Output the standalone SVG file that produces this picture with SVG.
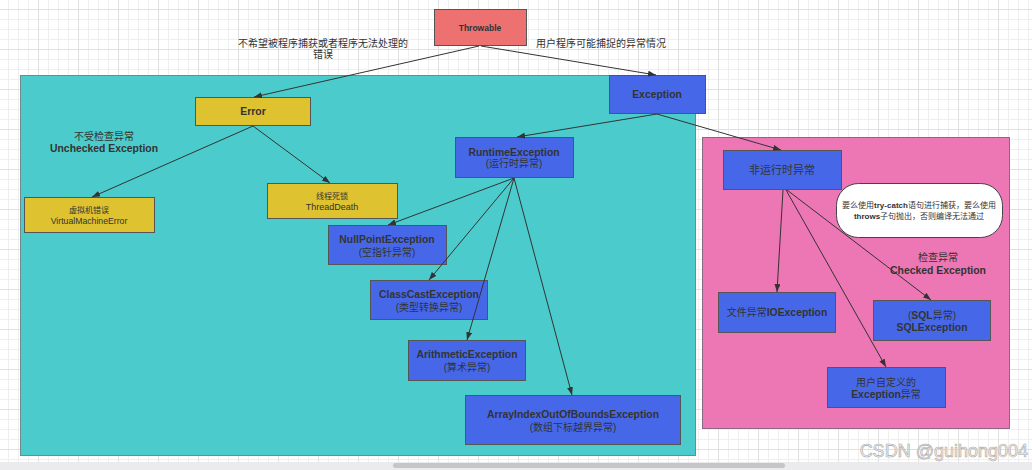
<svg xmlns="http://www.w3.org/2000/svg" width="1032" height="470" viewBox="0 0 1032 470">
<defs>
<pattern id="grid" patternUnits="userSpaceOnUse" x="-2" y="9" width="40" height="40">
<rect width="40" height="40" fill="#ffffff"/>
<g fill="#efefef">
<rect x="10" y="0" width="1" height="40"/><rect x="20" y="0" width="1" height="40"/><rect x="30" y="0" width="1" height="40"/>
<rect x="0" y="10" width="40" height="1"/><rect x="0" y="20" width="40" height="1"/><rect x="0" y="30" width="40" height="1"/>
</g>
<g fill="#e0e0e0"><rect x="0" y="0" width="1" height="40"/><rect x="0" y="0" width="40" height="1"/></g>
</pattern>
<marker id="arr" viewBox="0 0 8 6" refX="8" refY="3" markerWidth="8" markerHeight="6" markerUnits="userSpaceOnUse" orient="auto">
<path d="M0,0 L8,3 L0,6 Z" fill="#333"/>
</marker>
</defs>
<style>
text{font-family:"Liberation Sans","Noto Sans CJK SC",sans-serif;fill:#333;text-anchor:middle}
.b{font-weight:bold;font-size:10.4px}
.c{font-size:10px;font-weight:normal}
.s{font-size:8.7px}
.box{stroke:#555;stroke-width:1}
.blue{fill:#4668e8}
.yel{fill:#dfc22f}
.con line{stroke:#333;stroke-width:1;marker-end:url(#arr)}
</style>
<rect x="0" y="0" width="1032" height="462" fill="url(#grid)"/>
<rect x="0" y="462" width="1032" height="8" fill="#ebebee"/>
<rect x="393" y="463" width="392" height="5" rx="2.5" fill="#c6c6c6"/>

<g id="group-unchecked">
<rect x="20.5" y="75.5" width="675" height="380" fill="#4bcbcb" stroke="#6f8a8a" stroke-width="1"/>
<text x="104" y="140" class="c">不受检查异常</text>
<text x="104" y="152" class="b">Unchecked Exception</text>
</g>
<g id="group-checked">
<rect x="702.5" y="137.5" width="307" height="291" fill="#ec77b4" stroke="#8a6a80" stroke-width="1"/>
<text x="938" y="261" class="c">检查异常</text>
<text x="938" y="273.5" class="b">Checked Exception</text>
</g>

<g id="label-error">
<text x="323" y="46.5" class="c">不希望被程序捕获或者程序无法处理的</text>
<text x="323" y="58" class="c">错误</text>
</g>
<g id="label-exception">
<text x="601" y="47" class="c">用户程序可能捕捉的异常情况</text>
</g>

<g id="throwable">
<rect x="434.5" y="9.5" width="92" height="36" fill="#ec7170" class="box"/>
<text x="480" y="30.5" class="b" style="font-size:8.5px">Throwable</text>
</g>
<g id="error">
<rect x="195.5" y="97.5" width="115" height="28" class="box yel"/>
<text x="253" y="114.5" class="b">Error</text>
</g>
<g id="exception">
<rect x="609.5" y="75.5" width="96" height="38" class="box blue"/>
<text x="657" y="97.5" class="b">Exception</text>
</g>
<g id="virtualmachineerror">
<rect x="24.5" y="197.5" width="130" height="35" class="box yel"/>
<text x="89" y="213" class="s" style="font-size:8px">虚拟机错误</text>
<text x="89" y="223.5" class="s">VirtualMachineError</text>
</g>
<g id="threaddeath">
<rect x="267.5" y="183.5" width="130" height="35" class="box yel"/>
<text x="332" y="199" class="s" style="font-size:8px">线程死锁</text>
<text x="332" y="209.5" class="s" style="font-size:9px">ThreadDeath</text>
</g>
<g id="runtimeexception">
<rect x="455.5" y="137.5" width="118" height="40" class="box blue"/>
<text x="514" y="155.5" class="b">RuntimeException</text>
<text x="514" y="167" class="c">(运行时异常)</text>
</g>
<g id="nullpointexception">
<rect x="328.5" y="225.5" width="118" height="39" class="box blue"/>
<text x="387" y="243" class="b">NullPointException</text>
<text x="387" y="255.5" class="c">(空指针异常)</text>
</g>
<g id="classcastexception">
<rect x="370.5" y="280.5" width="117" height="39" class="box blue"/>
<text x="429" y="298" class="b">ClassCastException</text>
<text x="429" y="310.5" class="c">(类型转换异常)</text>
</g>
<g id="arithmeticexception">
<rect x="408.5" y="340.5" width="117" height="40" class="box blue"/>
<text x="467" y="358" class="b">ArithmeticException</text>
<text x="467" y="370.5" class="c">(算术异常)</text>
</g>
<g id="arrayindexoutofboundsexception">
<rect x="465.5" y="395.5" width="215" height="49" class="box blue"/>
<text x="573" y="418" class="b">ArrayIndexOutOfBoundsException</text>
<text x="573" y="431" class="c">(数组下标越界异常)</text>
</g>
<g id="non-runtime">
<rect x="723.5" y="150.5" width="118" height="39" class="box blue"/>
<text x="782" y="173.5" class="c" style="font-size:11px">非运行时异常</text>
</g>
<g id="note">
<rect x="836.5" y="183.5" width="166" height="54" rx="22" ry="22" fill="#ffffff" stroke="#444" stroke-width="1"/>
<text x="919" y="208" style="font-size:8px">要么使用<tspan font-weight="bold">try-catch</tspan>语句进行捕获，要么使用</text>
<text x="919" y="218.5" style="font-size:8px"><tspan font-weight="bold">throws</tspan>子句抛出，否则编译无法通过</text>
</g>
<g id="ioexception">
<rect x="718.5" y="292.5" width="117" height="40" class="box blue"/>
<text x="777" y="316" class="c">文件异常<tspan class="b">IOException</tspan></text>
</g>
<g id="sqlexception">
<rect x="873.5" y="300.5" width="117" height="40" class="box blue"/>
<text x="932" y="318.5" class="c">(<tspan class="b">SQL</tspan>异常)</text>
<text x="932" y="330.5" class="b">SQLException</text>
</g>
<g id="userexception">
<rect x="827.5" y="367.5" width="118" height="40" class="box blue"/>
<text x="886" y="385.5" class="c">用户自定义的</text>
<text x="886" y="397.5" class="c"><tspan class="b">Exception</tspan>异常</text>
</g>

<g id="connectors" class="con">
<line x1="479" y1="46" x2="254" y2="97"/>
<line x1="481" y1="46" x2="656" y2="75"/>
<line x1="657" y1="114" x2="517" y2="137"/>
<line x1="657" y1="114" x2="781" y2="150"/>
<line x1="253" y1="126" x2="92" y2="197"/>
<line x1="253" y1="126" x2="330" y2="183"/>
<line x1="514" y1="178" x2="388" y2="225"/>
<line x1="514" y1="178" x2="429" y2="280"/>
<line x1="514" y1="178" x2="467" y2="340"/>
<line x1="514" y1="178" x2="572" y2="395"/>
<line x1="783" y1="190" x2="777" y2="292"/>
<line x1="786" y1="190" x2="886" y2="367"/>
<line x1="787" y1="190" x2="931" y2="300"/>
</g>

<g id="watermark">
<text x="1028" y="457" style="font-family:'Liberation Sans',sans-serif;font-size:18px;text-anchor:end;fill:#f2f2f2;stroke:#a8a8a8;stroke-width:0.6">CSDN @guihong004</text>
</g>
</svg>
